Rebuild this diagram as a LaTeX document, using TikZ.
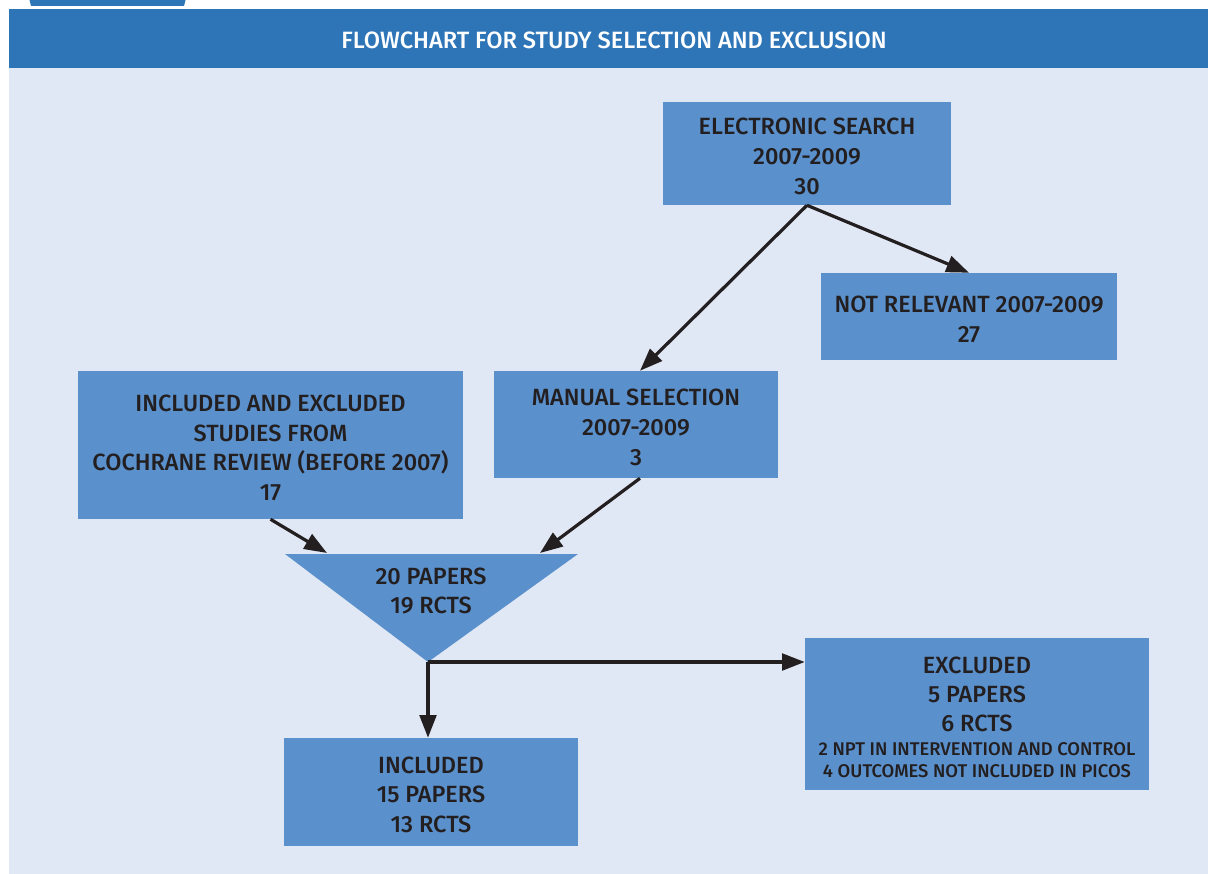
\documentclass[tikz,border=0pt]{standalone}
\usepackage{fontspec}
\setmainfont{Fira Sans}[UprightFont=* Medium, BoldFont=* SemiBold]
\usetikzlibrary{arrows.meta}
\definecolor{hdrblue}{HTML}{2E75B8}
\definecolor{panel}{HTML}{E1E8F5}
\definecolor{boxblue}{HTML}{5A90CB}
\definecolor{ink}{HTML}{231F20}
\newcommand{\topstrut}{\rule{0pt}{16.6pt}}
\newcommand{\smalltxt}{\fontsize{13.8}{17}\selectfont}
\tikzset{
  x=0.75pt, y=-0.75pt,
  stepbox/.style={fill=boxblue, inner sep=0pt, text=ink, align=center,
    font=\fontsize{17.6}{22.3}\selectfont},
  arr/.style={draw=ink, line width=2.4pt, -{Triangle[length=17pt,width=12.5pt]}},
}
\begin{document}
\begin{tikzpicture}
\useasboundingbox (0,0) rectangle (1208,874);
\fill[white] (0,0) rectangle (1208,874);
% tab
\fill[hdrblue] (29,-2) -- (186,-2) -- (184,6) -- (31,6) -- cycle;
% panel and header
\fill[panel] (9,68) rectangle (1208,874);
\fill[hdrblue] (9,9) rectangle (1208,68);
\node[text=white, font=\fontsize{17.7}{20}\selectfont] (hdr) at (614,40.5) {FLOWCHART FOR STUDY SELECTION AND EXCLUSION};

% boxes
\node[stepbox, minimum width=288*0.75pt, minimum height=103*0.75pt] (es) at (807,153.5)
  {\topstrut ELECTRONIC SEARCH\\2007-2009\\30};
\node[stepbox, minimum width=296*0.75pt, minimum height=87*0.75pt] (nr) at (969,316.5)
  {\topstrut NOT RELEVANT 2007-2009\\27};
\node[stepbox, minimum width=284*0.75pt, minimum height=107*0.75pt] (ms) at (636,424.5)
  {\topstrut MANUAL SELECTION\\2007-2009\\3};
\node[stepbox, minimum width=385*0.75pt, minimum height=148*0.75pt] (ie) at (270.5,445)
  {\topstrut INCLUDED AND EXCLUDED\\STUDIES FROM\\COCHRANE REVIEW (BEFORE 2007)\\17};
\node[stepbox, minimum width=294*0.75pt, minimum height=108*0.75pt] (inc) at (431,792)
  {\topstrut INCLUDED\\15 PAPERS\\13 RCTS};
\node[stepbox, minimum width=344*0.75pt, minimum height=152*0.75pt] (ex) at (977,714)
  {\rule{0pt}{17.6pt}EXCLUDED\\[-0.6pt]5 PAPERS\\[-0.6pt]6 RCTS\\[-4pt]{\smalltxt 2 NPT IN INTERVENTION AND CONTROL}\\[-5.4pt]{\smalltxt 4 OUTCOMES NOT INCLUDED IN PICOS}};

% triangle
\coordinate (tl) at (285,554);
\coordinate (tr) at (578,554);
\coordinate (apex) at (428,662);
\fill[boxblue] (tl) -- (tr) -- (apex) -- cycle;
\node[stepbox, fill=none] (tri) at (431,591) {20 PAPERS\\19 RCTS};
\coordinate (t1) at (327,553);
\coordinate (t2) at (540,553);

% connectors
\draw[arr] (es.south) -- (ms.north -| 640,0);
\draw[arr] (es.south) -- (nr.north);
\draw[arr] (ie.south) -- (t1);
\draw[arr] (ms.south -| 640,0) -- (t2);
\draw[arr] (apex) -- (apex -| ex.west);
\draw[arr] (apex) -- (apex |- inc.north);
\end{tikzpicture}
\end{document}
